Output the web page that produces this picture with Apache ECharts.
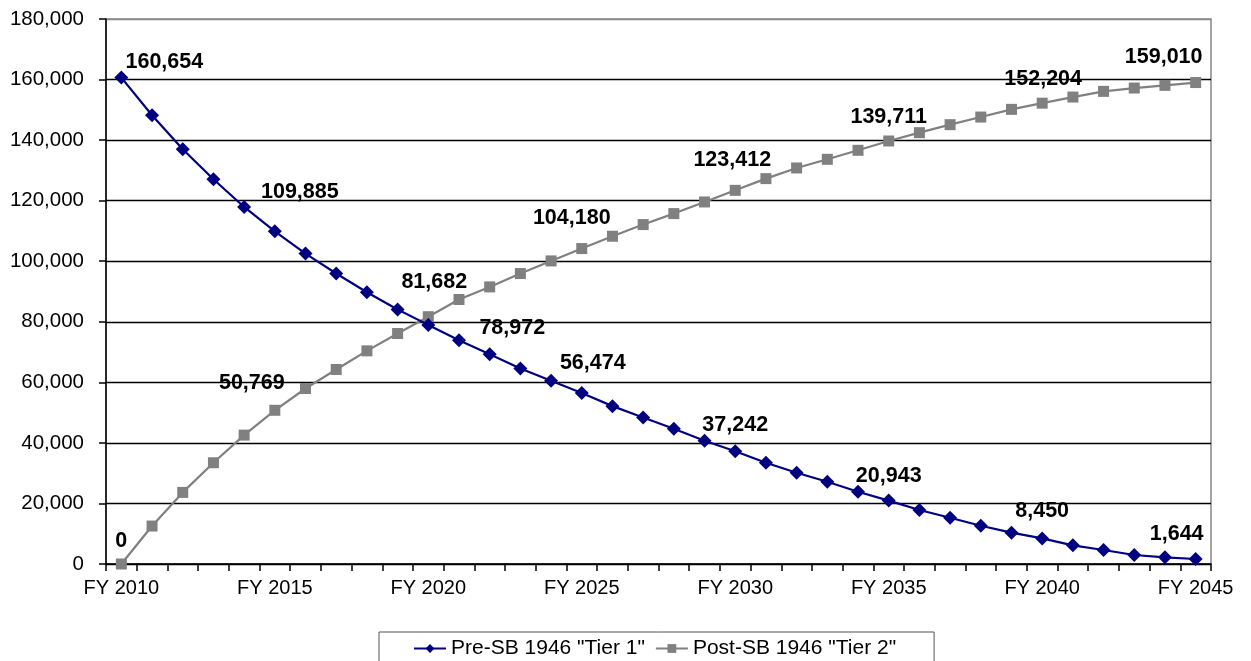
<!DOCTYPE html>
<html>
<head>
<meta charset="utf-8">
<script src="https://cdn.jsdelivr.net/npm/echarts@6/dist/echarts.min.js"></script>
<style>
html,body{margin:0;padding:0;background:#fff;}
#chart{width:1251px;height:661px;}
</style>
</head>
<body>
<div id="chart"></div>
<script>
// ---- data ----
var categories = ["FY 2010","FY 2011","FY 2012","FY 2013","FY 2014","FY 2015","FY 2016","FY 2017","FY 2018","FY 2019",
  "FY 2020","FY 2021","FY 2022","FY 2023","FY 2024","FY 2025","FY 2026","FY 2027","FY 2028","FY 2029",
  "FY 2030","FY 2031","FY 2032","FY 2033","FY 2034","FY 2035","FY 2036","FY 2037","FY 2038","FY 2039",
  "FY 2040","FY 2041","FY 2042","FY 2043","FY 2044","FY 2045"];
var tier1 = [160654,148200,136960,127060,117920,109885,102530,95930,89770,84040,
  78972,73930,69300,64580,60500,56474,52140,48400,44660,40700,
  37242,33440,30140,27170,23870,20943,17820,15290,12650,10340,
  8450,6160,4620,2970,2200,1644];
var tier2 = [0,12540,23650,33440,42570,50769,57970,64250,70400,76130,
  81682,87350,91520,95930,100100,104180,108250,112100,115730,119570,
  123412,127280,130800,133660,136630,139711,142460,145100,147620,150160,
  152204,154220,156100,157200,158080,159010];
var seriesNames = ['Pre-SB 1946 "Tier 1"', 'Post-SB 1946 "Tier 2"'];
var labeledIdx = [0,5,10,15,20,25,30,35];

// ---- label placement (styling, not data) ----
var tier1Offsets = {0:[43,-15],5:[25,-39],10:[84,3],15:[11,-30],20:[0,-26],25:[0,-25],30:[0,-27],35:[-19,-25]};
var tier2Offsets = {0:[0,-23],5:[-23,-27],10:[6,-35],15:[-10,-30],20:[-3,-30],25:[0,-24],30:[1,-24],35:[-32,-25]};

function fmt(v){ return Number(v).toLocaleString('en-US'); }

function buildData(vals, offsets){
  return vals.map(function(v,i){
    if (labeledIdx.indexOf(i) >= 0) {
      return {value:v, label:{show:true, position:'inside', offset:offsets[i],
        formatter:function(p){return fmt(p.value);},
        color:'#000', fontFamily:'Arial', fontWeight:'bold', fontSize:21.5}};
    }
    return {value:v};
  });
}

var gridColors = ['#000','#000','#000','#000','#000','#000','#000','#000','#000','#888'];

var chart = echarts.init(document.getElementById('chart'), null, {renderer:'canvas'});
chart.setOption({
  animation:false,
  backgroundColor:'#fff',
  grid:{left:106, right:40, top:19, bottom:97, show:true, borderColor:'#888', borderWidth:1.5, backgroundColor:'transparent'},
  legend:{
    left:379, top:632,
    padding:[6,38,8,34],
    borderColor:'#555', borderWidth:1,
    itemGap:10, itemWidth:32, itemHeight:11,
    textStyle:{fontFamily:'Arial', fontSize:21, color:'#000'},
    data:seriesNames
  },
  xAxis:{
    type:'category', data:categories, boundaryGap:true,
    axisLine:{lineStyle:{color:'#000', width:1.5}},
    axisTick:{show:true, interval:0, length:7, lineStyle:{color:'#000', width:1.5}},
    axisLabel:{interval:4, margin:14, fontFamily:'Arial', fontSize:20, color:'#000'},
    splitLine:{show:false}
  },
  yAxis:{
    type:'value', min:0, max:180000, interval:20000,
    axisLine:{show:true, lineStyle:{color:'#000', width:1.5}},
    axisTick:{show:true, length:7, lineStyle:{color:'#000', width:1.5}},
    axisLabel:{margin:22, fontFamily:'Arial', fontSize:20.5, color:'#000', formatter:fmt},
    splitLine:{show:true, lineStyle:{color:gridColors, width:1.3}}
  },
  series:[
    {name:seriesNames[0], type:'line', data:buildData(tier1, tier1Offsets),
     symbol:'diamond', symbolSize:14, showAllSymbol:true,
     lineStyle:{color:'#000080', width:2.2}, itemStyle:{color:'#000080'}, z:3},
    {name:seriesNames[1], type:'line', data:buildData(tier2, tier2Offsets),
     symbol:'rect', symbolSize:11, showAllSymbol:true,
     lineStyle:{color:'#808080', width:2.2}, itemStyle:{color:'#808080'}, z:2}
  ]
});
</script>
</body>
</html>
